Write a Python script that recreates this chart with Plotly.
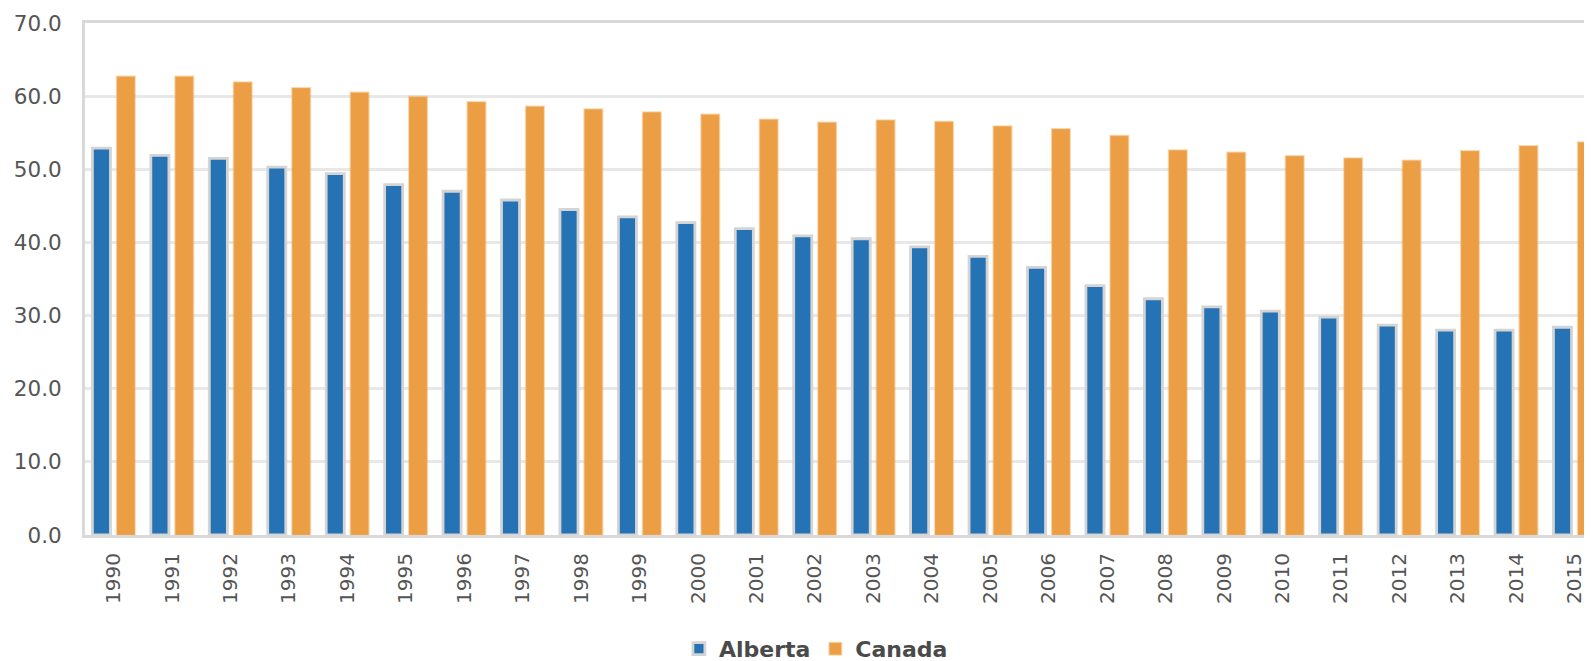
"""Alberta vs Canada grouped bar chart, 1990-2015."""

import plotly.graph_objects as go

YEARS = [str(y) for y in range(1990, 2016)]

ALBERTA = [
    52.9, 51.9, 51.5, 50.3, 49.4, 47.9, 47.0, 45.8, 44.5, 43.5,
    42.7, 41.9, 40.9, 40.5, 39.4, 38.1, 36.6, 34.1, 32.3, 31.2,
    30.6, 29.8, 28.7, 28.0, 28.0, 28.4,
]

CANADA = [
    62.7, 62.7, 61.9, 61.1, 60.5, 59.9, 59.2, 58.6, 58.2, 57.8,
    57.5, 56.8, 56.4, 56.7, 56.5, 55.9, 55.5, 54.6, 52.6, 52.3,
    51.8, 51.5, 51.2, 52.5, 53.2, 53.7,
]

Y_TICKS = [0, 10, 20, 30, 40, 50, 60, 70]
Y_TICK_TEXT = ["0.0", "10.0", "20.0", "30.0", "40.0", "50.0", "60.0", "70.0"]

_BLUE = "#2572b4"
_ORANGE = "#eb9e43"
_GRID = "#e8e8e8"
_AXIS = "#d9d9d9"
_TEXT = "#555555"
_FONT = "DejaVu Sans"

fig = go.Figure()
fig.add_trace(
    go.Bar(
        name="Alberta",
        x=YEARS,
        y=ALBERTA,
        marker={"color": _BLUE, "line": {"color": "#d4d4d4", "width": 2.8}},
    )
)
fig.add_trace(
    go.Bar(
        name="Canada",
        x=YEARS,
        y=CANADA,
        marker={
            "color": _ORANGE,
            "line": {"color": "rgba(240,170,90,0.45)", "width": 2},
        },
    )
)

# the page body adds 8px, so margins are trimmed by that much;
# the right edge cuts through the last Canada bar like the source
fig.update_layout(
    width=1592,
    height=661,
    margin={"l": 77, "r": 8, "t": 14.5, "b": 134, "autoexpand": False},
    paper_bgcolor="white",
    plot_bgcolor="white",
    barmode="group",
    bargap=0.165,
    bargroupgap=0.26,
    font={"family": _FONT, "color": _TEXT, "size": 20},
    showlegend=True,
    legend={
        "orientation": "h",
        "x": 0.485,
        "xanchor": "center",
        "y": -0.2224,
        "yanchor": "middle",
        "font": {"family": _FONT, "size": 22, "color": "#4a4a4a", "weight": "bold"},
        "traceorder": "normal",
    },
    xaxis={
        "type": "category",
        "range": [-0.49, 25.296],
        "automargin": False,
        "tickangle": -90,
        "showgrid": False,
        "showline": True,
        "linecolor": _AXIS,
        "linewidth": 3,
        "mirror": True,
        "ticks": "",
        "ticklabelstandoff": 7,
        "tickfont": {"size": 20, "color": _TEXT},
    },
    yaxis={
        "range": [0, 70],
        "automargin": False,
        "tickvals": Y_TICKS,
        "ticktext": Y_TICK_TEXT,
        "showgrid": True,
        "gridcolor": _GRID,
        "gridwidth": 3,
        "showline": True,
        "linecolor": _AXIS,
        "linewidth": 3,
        "zeroline": False,
        "ticks": "",
        "ticklabelstandoff": 16,
        "tickfont": {"size": 21.5, "color": _TEXT},
    },
)

fig.write_html("out.html")
